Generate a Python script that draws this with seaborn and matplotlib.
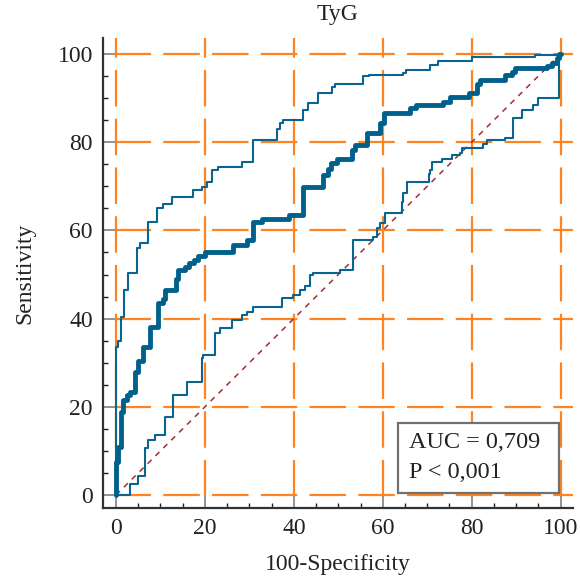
import matplotlib
matplotlib.use("Agg")
import matplotlib.pyplot as plt
import seaborn as sns
from matplotlib.patches import Rectangle
from matplotlib.ticker import MultipleLocator

# ROC krivulja: x = 100-Specificity, y = Sensitivity (tocke stopnic, steps-post)
roc_x = [0, 0, 0.5, 1.05, 1.6, 2.4, 3.15, 4.3, 5.0, 6.1, 7.7, 9.5, 10.5, 11.0,
         13.6, 14.0, 15.5, 16.5, 17.5, 18.5, 20.0, 26.4, 29.4, 30.9, 32.8,
         38.8, 42.1, 46.6, 47.6, 48.3, 49.6, 53.0, 53.8, 56.4, 59.4, 60.3,
         66.1, 67.5, 73.6, 75.1, 79.3, 81.1, 81.8, 87.5, 89.0, 89.8, 96.9,
         98.0, 99.1, 99.6, 100]
roc_y = [0, 7.5, 11.0, 18.9, 21.5, 22.7, 23.4, 28.0, 30.5, 33.6, 38.2, 43.5,
         44.5, 46.5, 49.0, 51.0, 51.8, 52.5, 53.3, 54.2, 55.2, 56.7, 57.8,
         62.0, 62.7, 63.5, 69.9, 72.5, 74.0, 75.2, 76.3, 78.2, 79.4, 82.0,
         84.3, 86.6, 87.8, 88.5, 89.2, 90.2, 91.1, 93.3, 94.1, 95.2, 96.0,
         96.8, 97.3, 98.0, 99.0, 100, 100]

# zgornja meja intervala zaupanja
upper_x = [0, 0, 0.5, 1.05, 1.8, 2.8, 4.65, 5.3, 7.1, 9.15, 10.6, 12.5, 17.4,
           19.3, 20.5, 21.5, 23.0, 28.3, 30.9, 36.2, 36.9, 37.6, 42.1, 43.2,
           45.5, 48.5, 49.2, 55.6, 57.0, 64.6, 65.2, 70.7, 72.5, 80.0, 94.3, 100]
upper_y = [0, 33.6, 35.0, 40.4, 46.5, 50.3, 56.0, 57.2, 62.0, 65.0, 66.0, 67.6,
           69.1, 69.9, 71.0, 73.7, 74.4, 75.6, 80.5, 83.1, 84.3, 85.1, 87.3,
           88.8, 91.1, 92.6, 93.3, 94.9, 95.3, 95.6, 96.4, 97.5, 98.5, 99.4,
           99.7, 100]

# spodnja meja intervala zaupanja
lower_x = [0, 3.15, 5.0, 6.5, 7.3, 8.8, 11.0, 12.9, 15.9, 19.3, 19.6, 22.3,
           23.4, 26.0, 28.3, 29.4, 30.9, 37.3, 39.9, 41.4, 42.5, 43.6, 44.4,
           50.4, 53.4, 57.9, 58.6, 59.4, 60.5, 64.3, 64.6, 65.4, 70.3, 70.6,
           71.0, 73.3, 75.5, 77.4, 77.8, 82.6, 83.4, 87.5, 89.4, 91.3, 93.9,
           95.0, 99.6, 100]
lower_y = [0, 2.6, 4.2, 10.6, 12.5, 13.6, 17.8, 22.7, 25.7, 31.0, 31.8, 36.7,
           37.9, 39.7, 40.8, 41.6, 42.7, 44.6, 45.4, 46.4, 47.5, 49.9, 50.3,
           51.0, 57.8, 58.5, 60.5, 61.7, 63.9, 66.5, 68.4, 71.0, 72.9, 73.6,
           75.6, 76.2, 77.0, 77.5, 78.6, 79.7, 80.5, 80.9, 85.4, 87.3, 88.4,
           90.0, 100, 100]

diag_x = [0, 100]
diag_y = [0, 100]

naslov = "TyG"
x_oznaka = "100-Specificity"
y_oznaka = "Sensitivity"
auc_text = "AUC = 0,709"
p_text = "P < 0,001"

sns.set_style("white")
plt.rcParams["font.family"] = ["Liberation Serif", "DejaVu Serif"]
plt.rcParams["lines.scale_dashes"] = False

fig = plt.figure(figsize=(5.8, 5.83), dpi=100)
ax = fig.add_axes([0.177, 0.1286, 0.811, 0.806])

modra = "#0a6490"

# mreza (oranzna, crtkana)
ax.grid(True, which="major", color="#ff8421", lw=1.6,
        linestyle=(26.8, (26.3, 8.8)))
ax.set_axisbelow(True)

sns.lineplot(x=diag_x, y=diag_y, ax=ax, color="#9e2f33", lw=1.1,
             linestyle=(0, (4.0, 4.0)), sort=False, estimator=None)
sns.lineplot(x=upper_x, y=upper_y, ax=ax, color=modra, lw=1.5,
             drawstyle="steps-post", sort=False, estimator=None)
sns.lineplot(x=lower_x, y=lower_y, ax=ax, color=modra, lw=1.5,
             drawstyle="steps-post", sort=False, estimator=None)
sns.lineplot(x=roc_x, y=roc_y, ax=ax, color="#00608c", lw=3.5,
             drawstyle="steps-post", sort=False, estimator=None)

ax.set_xlim(-3.0, 102.8)
ax.set_ylim(-2.95, 103.6)
ax.xaxis.set_major_locator(MultipleLocator(20))
ax.xaxis.set_minor_locator(MultipleLocator(5))
ax.yaxis.set_major_locator(MultipleLocator(20))
ax.yaxis.set_minor_locator(MultipleLocator(5))

ax.tick_params(which="both", bottom=True, left=True, direction="in")
ax.tick_params(which="major", length=8.5, width=1.3, color="#8a8a8a",
               labelsize=17, labelcolor="#222222", pad=7)
ax.tick_params(which="minor", length=3.8, width=1.0, color="#222222")

for s in ["top", "right"]:
    ax.spines[s].set_visible(False)
for s in ["left", "bottom"]:
    ax.spines[s].set_color("#333333")
    ax.spines[s].set_linewidth(1.6)

ax.set_title(naslov, fontsize=17, pad=13, color="#222222")
ax.set_xlabel(x_oznaka, fontsize=17, labelpad=11, color="#222222")
ax.set_ylabel(y_oznaka, fontsize=17, labelpad=16, color="#222222")

# okvir z AUC in P
ax.add_patch(Rectangle((63.4, 0.45), 36.3, 15.9, fc="white", ec="#707070",
                       lw=1.6, zorder=4))
ax.text(65.9, 10.6, auc_text, fontsize=17.5, color="#222222",
        ha="left", va="baseline", zorder=5)
ax.text(65.9, 3.8, p_text, fontsize=17.5, color="#222222",
        ha="left", va="baseline", zorder=5)

fig.savefig("out.png", dpi=100)
